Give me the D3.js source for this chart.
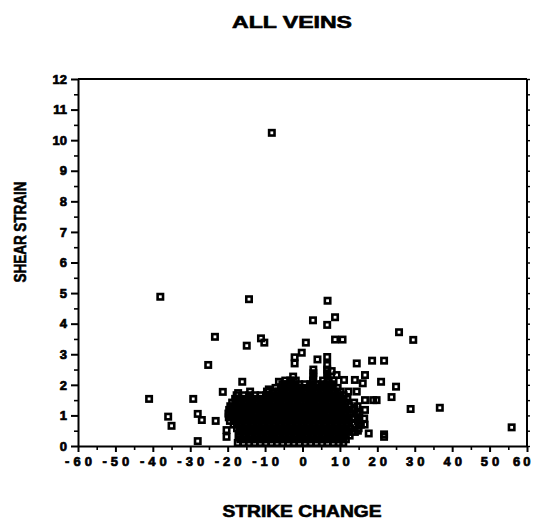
<!DOCTYPE html>
<html>
<head>
<meta charset="utf-8">
<script src="https://cdn.jsdelivr.net/npm/d3@7"></script>
<style>
  html, body { margin: 0; padding: 0; background: #fff; }
  svg { display: block; }
  text { font-family: "Liberation Sans", Arial, sans-serif; font-weight: bold; fill: #000; }
</style>
</head>
<body>
<svg id="chart" width="537" height="520"></svg>
<script>
// ---------------- data ----------------
const titleText = "ALL VEINS";
const xLabelText = "STRIKE CHANGE";
const yLabelText = "SHEAR STRAIN";

const xTickValues = [-60, -50, -40, -30, -20, -10, 0, 10, 20, 30, 40, 50, 60];
const xMinorTicks = [-55, -45, -35, -25, -15, -5, 5, 15, 25, 35, 45, 55];
const yTickValues = [0, 1, 2, 3, 4, 5, 6, 7, 8, 9, 10, 11, 12];
const yMinorTicks = [0.5, 1.5, 2.5, 3.5, 4.5, 5.5, 6.5, 7.5, 8.5, 9.5, 10.5, 11.5];

// isolated veins [strike change, shear strain]
const outlierPoints = [
  [-8.2, 10.24],
  [-38.0, 4.88], [-14.3, 4.80], [6.7, 4.75],
  [2.8, 4.11], [6.6, 3.96], [8.7, 4.21], [8.7, 3.48], [10.7, 3.48],
  [0.9, 3.38], [-0.2, 3.05], [-2.1, 2.90], [-2.1, 2.70], [4.0, 2.83],
  [6.6, 2.91], [6.6, 2.65], [7.8, 2.45], [9.1, 2.32],
  [25.8, 3.72], [29.6, 3.47], [14.5, 2.70], [18.6, 2.79], [21.8, 2.79],
  [21.0, 2.10], [16.7, 2.32], [25.0, 1.94], [23.8, 1.60], [19.8, 1.50],
  [28.9, 1.21], [36.7, 1.25], [55.9, 0.61], [17.7, 0.41], [21.8, 0.38],
  [21.8, 0.30], [16.7, 1.50], [16.7, 1.18], [14.0, 2.16], [16.1, 2.05],
  [11.1, 2.16], [18.9, 1.50], [16.5, 0.90], [16.6, 0.70], [14.8, 0.50],
  [-2.5, 2.27], [-3.1, 2.05],
  [-23.4, 3.57], [-11.1, 3.52], [-10.2, 3.38], [-14.9, 3.28], [-25.2, 2.65],
  [-41.0, 1.54], [-29.2, 1.54], [-35.9, 0.96], [-35.0, 0.66], [-28.0, 1.05],
  [-26.9, 0.85], [-23.2, 0.82], [-28.0, 0.16], [-21.3, 1.77], [-16.1, 2.10],
  [-6.3, 2.10], [-9.0, 1.85], [-17.2, 1.73], [-14.0, 1.78], [-20.3, 0.52],
  [-20.3, 0.30], [-18.9, 1.07]
];

// dense cluster read row by row: [shear strain, [strike change values]]
const clusterRows = [
  [0.10, [-17.3, -15.8, -14.3, -12.8, -11.3, -9.8, -8.3, -6.8, -5.3, -3.8, -2.3, -0.8, 0.7, 2.2, 3.7, 5.2, 6.7, 8.2, 9.7, 10.9]],
  [0.22, [-16.6, -15.1, -13.6, -12.1, -10.6, -9.1, -7.6, -6.1, -4.6, -3.1, -1.6, -0.1, 1.4, 2.9, 4.4, 5.9, 7.4, 8.9, 10.4, 11.6]],
  [0.34, [-17.1, -15.7, -14.2, -12.7, -11.2, -9.7, -8.2, -6.7, -5.2, -3.7, -2.2, -0.7, 0.8, 2.3, 3.8, 5.3, 6.8, 8.3, 9.8, 11.2, 12.6]],
  [0.46, [-16.8, -15.2, -13.5, -12.0, -10.5, -9.0, -7.5, -6.0, -4.5, -3.0, -1.5, 0.0, 1.5, 3.0, 4.5, 6.0, 7.5, 9.0, 10.5, 12.0, 14.0]],
  [0.58, [-17.5, -16.0, -14.5, -13.0, -11.5, -10.0, -8.5, -7.0, -5.5, -4.0, -2.5, -1.0, 0.5, 2.0, 3.5, 5.0, 6.5, 8.0, 9.5, 11.0, 12.8, 15.0]],
  [0.70, [-18.4, -16.8, -15.2, -13.7, -12.2, -10.7, -9.2, -7.7, -6.2, -4.7, -3.2, -1.7, -0.2, 1.3, 2.8, 4.3, 5.8, 7.3, 8.8, 10.3, 11.8, 13.8, 15.6]],
  [0.82, [-19.4, -17.9, -16.4, -14.9, -13.4, -11.9, -10.4, -8.9, -7.4, -5.9, -4.4, -2.9, -1.4, 0.1, 1.6, 3.1, 4.6, 6.1, 7.6, 9.1, 10.6, 12.4, 14.8]],
  [0.94, [-19.7, -18.2, -16.7, -15.2, -13.7, -12.2, -10.7, -9.2, -7.7, -6.2, -4.7, -3.2, -1.7, -0.2, 1.3, 2.8, 4.3, 5.8, 7.3, 8.8, 10.3, 11.7, 13.6, 15.2]],
  [1.06, [-19.8, -18.9, -17.4, -15.9, -14.4, -12.9, -11.4, -9.9, -8.4, -6.9, -5.4, -3.9, -2.4, -0.9, 0.6, 2.1, 3.6, 5.1, 6.6, 8.1, 9.6, 11.1, 12.8, 14.6]],
  [1.18, [-19.6, -18.1, -16.6, -15.1, -13.6, -12.1, -10.6, -9.1, -7.6, -6.1, -4.6, -3.1, -1.6, -0.1, 1.4, 2.9, 4.4, 5.9, 7.4, 8.9, 10.4, 11.9, 13.9]],
  [1.30, [-19.3, -17.8, -16.3, -14.8, -13.3, -11.8, -10.3, -8.8, -7.3, -5.8, -4.3, -2.8, -1.3, 0.2, 1.7, 3.2, 4.7, 6.2, 7.7, 9.2, 10.7, 12.6, 14.7]],
  [1.42, [-18.8, -17.1, -15.6, -14.1, -12.6, -11.1, -9.6, -8.1, -6.6, -5.1, -3.6, -2.1, -0.6, 0.9, 2.4, 3.9, 5.4, 6.9, 8.4, 9.9, 11.5, 13.8]],
  [1.54, [-18.0, -16.4, -14.9, -13.4, -11.9, -10.4, -8.9, -7.4, -5.9, -4.4, -2.9, -1.4, 0.1, 1.6, 3.1, 4.6, 6.1, 7.6, 9.1, 10.6, 12.0]],
  [1.66, [-17.6, -15.7, -14.2, -12.7, -11.2, -9.7, -8.2, -6.7, -5.2, -3.7, -2.2, -0.7, 0.8, 2.3, 3.8, 5.3, 6.8, 8.3, 9.8, 11.0]],
  [1.78, [-9.5, -7.9, -6.4, -4.9, -3.4, -1.9, -0.4, 1.1, 2.6, 4.1, 5.6, 7.1, 8.6, 10.2, 12.3, 14.5]],
  [1.90, [-7.2, -5.7, -4.2, -2.7, -1.2, 0.3, 1.8, 3.3, 4.8, 6.3, 7.8, 9.4]],
  [2.02, [-5.4, -3.9, -2.4, -0.9, 0.6, 2.1, 3.6, 5.1, 6.6, 8.1]],
  [2.14, [-4.6, -3.3, -1.8, 2.8, 5.5, 7.0, 8.3]],
  [2.26, [2.9, 6.7]],
  [2.38, [2.9, 6.6]],
  [2.50, [2.9, 6.6]]
];

// ---------------- chart ----------------
(function () {
const svg = d3.select("#chart");
const mLeft = 78, mRight = 527, mTop = 79, mBottom = 446;
const font = "Liberation Sans, Arial, sans-serif";

const x = d3.scaleLinear().domain([-60, 60]).range([mLeft, mRight]);
const y = d3.scaleLinear().domain([0, 12]).range([mBottom, mTop]);

const points = outlierPoints.map(d => ({sx: d[0], sy: d[1]}));
clusterRows.forEach(r => r[1].forEach(v => points.push({sx: v, sy: r[0]})));

// markers
const ms = 5.4;
svg.append("g").selectAll("rect").data(points).join("rect")
  .attr("x", d => x(d.sx) - ms / 2)
  .attr("y", d => y(d.sy) - ms / 2)
  .attr("width", ms).attr("height", ms)
  .attr("fill", "none").attr("stroke", "#000").attr("stroke-width", 2.6);

// frame (top and right)
svg.append("line").attr("x1", mLeft).attr("x2", mRight).attr("y1", mTop).attr("y2", mTop)
  .attr("stroke", "#000").attr("stroke-width", 2);
svg.append("line").attr("x1", mRight).attr("x2", mRight).attr("y1", mTop).attr("y2", mBottom)
  .attr("stroke", "#000").attr("stroke-width", 2);

// y axis
const gy = svg.append("g").attr("transform", `translate(${mLeft},0)`)
  .call(d3.axisLeft(y).tickValues(yTickValues).tickSize(7).tickSizeOuter(0).tickPadding(4).tickFormat(d3.format("d")));
gy.select(".domain").attr("stroke-width", 2).attr("stroke", "#000");
gy.selectAll(".tick line").attr("stroke-width", 2);
gy.selectAll(".tick text")
  .style("font-size", "13px").style("font-family", font).style("font-weight", "bold")
  .attr("fill", "#000").attr("stroke", "#000").attr("stroke-width", 0.7);

const gyMinor = svg.append("g").attr("transform", `translate(${mLeft},0)`)
  .call(d3.axisLeft(y).tickValues(yMinorTicks).tickSize(4).tickSizeOuter(0).tickFormat(""));
gyMinor.select(".domain").remove();
gyMinor.selectAll(".tick line").attr("stroke-width", 1.6);

// right side inner ticks
const gyRight = svg.append("g").attr("transform", `translate(${mRight},0)`)
  .call(d3.axisLeft(y).tickValues(yTickValues.concat(yMinorTicks)).tickSize(-3).tickSizeOuter(0).tickFormat(""));
gyRight.select(".domain").remove();
gyRight.selectAll(".tick line").attr("stroke-width", 1.4);

// x axis
const gx = svg.append("g").attr("transform", `translate(0,${mBottom})`)
  .call(d3.axisBottom(x).tickValues(xTickValues).tickSize(6).tickSizeOuter(0).tickPadding(5).tickFormat(d3.format("d")));
gx.select(".domain").attr("stroke-width", 2).attr("stroke", "#000");
gx.selectAll(".tick line").attr("stroke-width", 2);
gx.selectAll(".tick text")
  .text(d => d < 0 ? "-" + Math.abs(d) : String(d))
  .style("font-size", "13px").style("font-family", font).style("font-weight", "bold")
  .attr("fill", "#000").attr("stroke", "#000").attr("stroke-width", 0.7)
  .attr("letter-spacing", "4px").attr("dx", "2px");
// keep the last label inside the picture
gx.selectAll(".tick text").filter(d => d === 60)
  .attr("text-anchor", "end").attr("dx", "6px").attr("letter-spacing", "3px");

const gxMinor = svg.append("g").attr("transform", `translate(0,${mBottom})`)
  .call(d3.axisBottom(x).tickValues(xMinorTicks).tickSize(4).tickSizeOuter(0).tickFormat(""));
gxMinor.select(".domain").remove();
gxMinor.selectAll(".tick line").attr("stroke-width", 1.6);

// titles
const heavy = sel => sel.attr("stroke", "#000").attr("stroke-width", 0.6);
svg.append("text").attr("x", 292).attr("y", 28).attr("text-anchor", "middle")
  .attr("font-size", 16.5).attr("textLength", 120).attr("lengthAdjust", "spacingAndGlyphs")
  .call(heavy).text(titleText);
svg.append("text").attr("x", 302).attr("y", 517).attr("text-anchor", "middle")
  .attr("font-size", 16.5).attr("textLength", 159).attr("lengthAdjust", "spacingAndGlyphs")
  .call(heavy).text(xLabelText);
svg.append("text").attr("transform", "translate(26,232) rotate(-90)").attr("text-anchor", "middle")
  .attr("font-size", 16.5).attr("textLength", 101).attr("lengthAdjust", "spacingAndGlyphs")
  .call(heavy).text(yLabelText);
})();
</script>
</body>
</html>
